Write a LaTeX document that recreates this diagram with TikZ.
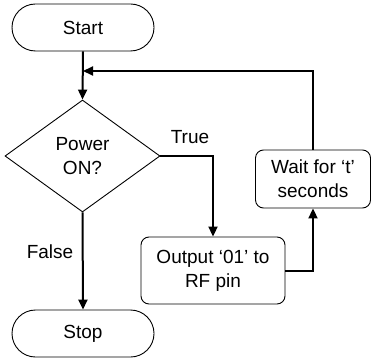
\documentclass[tikz,border=0pt]{standalone}
\usepackage{fontspec}
\setmainfont{Liberation Sans}
\usetikzlibrary{shapes.geometric,shapes.misc,arrows.meta}
\begin{document}
\begin{tikzpicture}[x=1pt,y=-1pt,
  every node/.style={font=\fontsize{19}{24}\selectfont, align=center, inner sep=0pt},
  term/.style={draw, line width=0.9pt, rounded rectangle, minimum width=142pt, minimum height=47pt},
  proc/.style={draw, line width=0.9pt, rounded corners=8pt, rectangle},
  decis/.style={draw, line width=0.9pt, diamond, minimum width=155pt, minimum height=112pt},
  conn/.style={line width=2pt, -{Triangle[length=10pt,width=9pt]}},
  lbl/.style={}]
\useasboundingbox (0,0) rectangle (371,358);
\node[term] (start) at (83,27.5) {Start};
\node[decis] (dec) at (82.5,156) {Power\\ON?};
\node[proc, minimum width=144pt, minimum height=67pt] (out) at (213,270.5) {Output ‘01’ to\\RF pin};
\node[proc, minimum width=115pt, minimum height=58pt] (wait) at (313,179) {Wait for ‘t’\\seconds};
\node[term] (stop) at (83,333.5) {Stop};
\coordinate (join) at (83,71);
\draw[conn] (start.south) -- (dec.north);
\draw[conn] (wait.north) |- (join);
\draw[conn] (dec.east) -| (out.north);
\draw[conn] (out.east) -| (wait.south);
\draw[conn] (dec.south) -- (stop.north);
\node[lbl] (ltrue) at (190,137) {True};
\node[lbl] (lfalse) at (50,252) {False};
\end{tikzpicture}
\end{document}
